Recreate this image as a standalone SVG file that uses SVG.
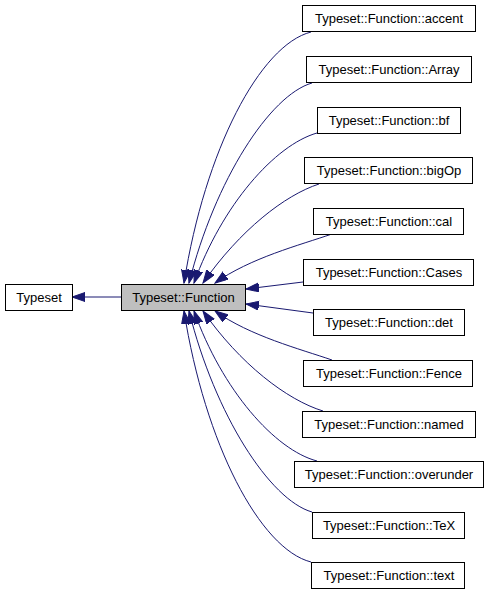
<svg xmlns="http://www.w3.org/2000/svg" width="488" height="595" viewBox="0 0 488 595">
<style>
.n rect{fill:#ffffff;stroke:#000000;stroke-width:1}
.n.cur rect{fill:#bfbfbf}
.n text{font-family:"Liberation Sans",Arial,sans-serif;font-size:13px;fill:#000000;text-anchor:middle}
.e path{fill:none;stroke:#191970;stroke-width:1;marker-end:url(#ah)}
</style>
<defs>
<marker id="ah" markerUnits="userSpaceOnUse" markerWidth="14" markerHeight="10" refX="13" refY="4.5" orient="auto">
<path d="M0,0 L13,4.5 L0,9 z" fill="#191970" stroke="#191970" stroke-width="1"/>
</marker>
</defs>
<rect width="488" height="595" fill="#ffffff"/>
<g id="edges" class="e">
<path d="M121,297 L72,297"/>
<path d="M311,32 C260,45 205,150 184,283"/>
<path d="M312,83 C270,95 215,180 189,283"/>
<path d="M317,133 C275,145 222,205 194,283"/>
<path d="M319,184 C285,195 240,230 203,283"/>
<path d="M332,234 C300,245 250,258 215,283"/>
<path d="M303,282 L246,289"/>
<path d="M313,313 L246,304"/>
<path d="M332,360 C300,349 250,336 215,311"/>
<path d="M323,411 C287,400 240,364 203,311"/>
<path d="M317,461 C275,450 222,390 194,311"/>
<path d="M312,512 C270,500 215,415 189,311"/>
<path d="M311,562 C260,549 205,444 184,311"/>
</g>
<g id="Typeset" class="n"><rect x="5.5" y="284.5" width="67" height="26"/><text x="39" y="302">Typeset</text></g>
<g id="Function" class="n cur"><rect x="121.5" y="284.5" width="124" height="26"/><text x="183.5" y="302">Typeset::Function</text></g>
<g id="accent" class="n"><rect x="302.5" y="5.5" width="173" height="26"/><text x="389" y="23">Typeset::Function::accent</text></g>
<g id="Array" class="n"><rect x="306.5" y="56.5" width="165" height="26"/><text x="389" y="74">Typeset::Function::Array</text></g>
<g id="bf" class="n"><rect x="317.5" y="107.5" width="143" height="26"/><text x="389" y="125">Typeset::Function::bf</text></g>
<g id="bigOp" class="n"><rect x="304.5" y="157.5" width="168" height="26"/><text x="389" y="175">Typeset::Function::bigOp</text></g>
<g id="cal" class="n"><rect x="313.5" y="208.5" width="150" height="26"/><text x="389" y="226">Typeset::Function::cal</text></g>
<g id="Cases" class="n"><rect x="303.5" y="259.5" width="170" height="26"/><text x="389" y="277">Typeset::Function::Cases</text></g>
<g id="det" class="n"><rect x="313.5" y="309.5" width="151" height="26"/><text x="389" y="327">Typeset::Function::det</text></g>
<g id="Fence" class="n"><rect x="303.5" y="360.5" width="169" height="26"/><text x="389" y="378">Typeset::Function::Fence</text></g>
<g id="named" class="n"><rect x="302.5" y="411.5" width="173" height="26"/><text x="389" y="429">Typeset::Function::named</text></g>
<g id="overunder" class="n"><rect x="294.5" y="461.5" width="189" height="26"/><text x="389" y="479">Typeset::Function::overunder</text></g>
<g id="TeX" class="n"><rect x="312.5" y="512.5" width="152" height="26"/><text x="389" y="530">Typeset::Function::TeX</text></g>
<g id="text" class="n"><rect x="311.5" y="562.5" width="153" height="26"/><text x="389" y="580">Typeset::Function::text</text></g>
</svg>
